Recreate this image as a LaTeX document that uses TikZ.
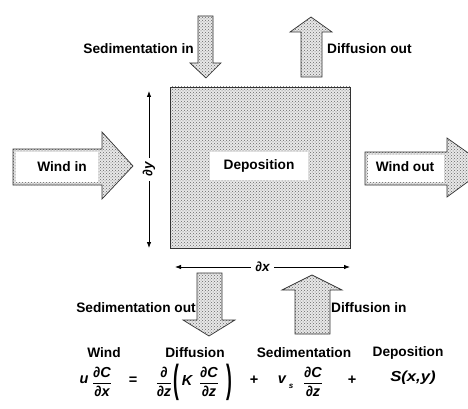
\documentclass[tikz,border=0pt]{standalone}
\usepackage{fontspec}
\setmainfont{Liberation Sans}
\usetikzlibrary{patterns,arrows.meta}
\newcommand\pfrac[2]{$\displaystyle\frac{\hbox{#1}}{\hbox{#2}}$}
\tikzset{
  stip/.style={draw=black!80, line width=0.7pt, preaction={fill=black!9}, pattern=crosshatch dots, pattern color=black!60},
  lbl/.style={font=\fontsize{13.7}{16}\selectfont\bfseries, inner sep=0pt},
  eq/.style={font=\fontsize{14.5}{16}\selectfont\bfseries\itshape, inner sep=0pt},
  eqr/.style={font=\fontsize{14.5}{16}\selectfont\bfseries, inner sep=0pt},
  dimarrow/.style={line width=0.8pt, {Latex[length=6pt,width=4.5pt]}-{Latex[length=6pt,width=4.5pt]}},
  dimlbl/.style={font=\fontsize{13.5}{16}\selectfont\bfseries\itshape, fill=white, inner sep=4pt},
  whitebox/.style={fill=white, draw=none},
}
\begin{document}
\begin{tikzpicture}[x=1pt,y=-1pt]
\useasboundingbox (0,0) rectangle (468,409);
\clip (0,0) rectangle (468,409);

% control volume
\path[stip] (170,87) rectangle (350,248);
\node[whitebox, minimum width=98pt, minimum height=28pt, inner sep=0pt] (depbox) at (259,166) {};
\node[lbl] (dep) at (259,166) {Deposition};

% Sedimentation in (down arrow, top)
\path[stip] (198,16) -- (213,16) -- (213,63) -- (221,63) -- (206,78) -- (190,63) -- (198,63) -- cycle;
\node[lbl, anchor=east] (sedin) at (194,49) {Sedimentation in};

% Diffusion out (up arrow, top)
\path[stip] (301,77) -- (322,77) -- (322,32) -- (332,32) -- (311,17) -- (290,32) -- (301,32) -- cycle;
\node[lbl, anchor=west] (difout) at (327,49) {Diffusion out};

% Wind in
\path[stip] (13,149) -- (102,149) -- (102,132) -- (133,166) -- (102,199) -- (102,185) -- (13,185) -- cycle;
\node[whitebox, minimum width=82pt, minimum height=30pt, inner sep=0pt] (wibox) at (57,167) {};
\node[lbl] (windin) at (62,167) {Wind in};

% Wind out
\path[stip] (365,152) -- (447,152) -- (447,138) -- (488,167) -- (447,197) -- (447,185) -- (365,185) -- cycle;
\node[whitebox, minimum width=76pt, minimum height=27pt, inner sep=0pt] (wobox) at (406,168.5) {};
\node[lbl] (windout) at (405,167) {Wind out};

% Sedimentation out (down arrow, bottom)
\path[stip] (197,273) -- (222,273) -- (222,320) -- (235,320) -- (209,336) -- (183,320) -- (197,320) -- cycle;
\node[lbl, anchor=east] (sedout) at (196,308) {Sedimentation out};

% Diffusion in (up arrow, bottom)
\path[stip] (295,334) -- (330,334) -- (330,290) -- (342,290) -- (312,275) -- (282,290) -- (295,290) -- cycle;
\node[lbl, anchor=west] (difin) at (331,308) {Diffusion in};

% dimension arrows
\coordinate (dyT) at (149,91);
\coordinate (dyB) at (149,248);
\draw[dimarrow] (dyB) -- (dyT) node[dimlbl, midway, rotate=90] (dy) {∂y};
\coordinate (dxL) at (175,267);
\coordinate (dxR) at (350,267);
\draw[dimarrow] (dxL) -- (dxR) node[dimlbl, midway] (dx) {∂x};

% term labels
\node[lbl] (tw) at (104,353) {Wind};
\node[lbl] (td) at (195,353) {Diffusion};
\node[lbl] (ts) at (304,353) {Sedimentation};
\node[lbl] (tdep) at (408,353) {Deposition};

% equation
\node[eq] (u) at (84,380) {u};
\node[eq] (f1) at (102,382) {\pfrac{∂C}{∂x}};
\node[eqr] (eqs) at (133,381) {=};
\node[eq] (dz) at (164,382) {\pfrac{∂}{∂z}};
\node[eqr] (lp) at (176,382) {\scalebox{1.2}[2.7]{(}};
\node[eq] (K) at (187,381) {K};
\node[eq] (f2) at (209,382) {\pfrac{∂C}{∂z}};
\node[eqr] (rp) at (229,382) {\scalebox{1.2}[2.7]{)}};
\node[eqr] (p1) at (254,380) {+};
\node[eq] (v) at (282,380) {v};
\node[eq, font=\fontsize{8}{9}\selectfont\bfseries\itshape] (vs) at (291,386) {s};
\node[eq] (f3) at (313,382) {\pfrac{∂C}{∂z}};
\node[eqr] (p2) at (352,380) {+};
\node[eq] (S) at (413,378) {\scalebox{1.15}[1]{S(x,y)}};
\end{tikzpicture}
\end{document}
